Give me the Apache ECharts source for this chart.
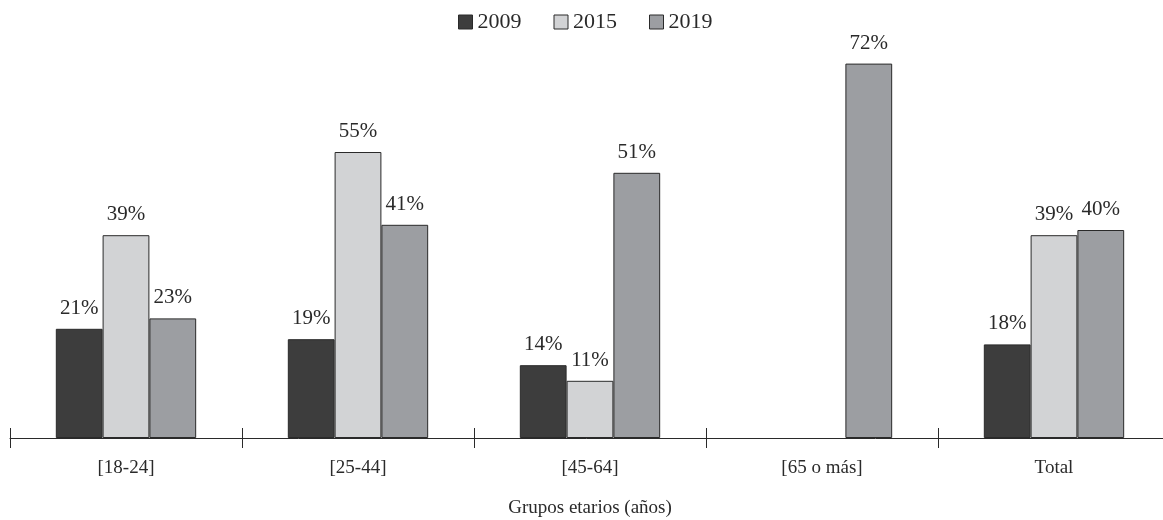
<!DOCTYPE html>
<html>
<head>
<meta charset="utf-8">
<script src="https://cdn.jsdelivr.net/npm/echarts@6/dist/echarts.min.js"></script>
<style>
  html, body { margin: 0; padding: 0; background: #fff; }
  #chart { width: 1163px; height: 520px; }
</style>
</head>
<body>
<div id="chart"></div>
<script>
// Age groups on the category axis
const categories = ['[18-24]', '[25-44]', '[45-64]', '[65 o más]', 'Total'];
// Percentages per survey year (null = no value for that group)
const values2009 = [21, 19, 14, null, 18];
const values2015 = [39, 55, 11, null, 39];
const values2019 = [23, 41, 51, 72, 40];
const seriesNames = ['2009', '2015', '2019'];
const axisTitle = 'Grupos etarios (años)';

const FONT = '"Liberation Serif", "DejaVu Serif", serif';
const INK = '#2a2a2a';
const colors = ['#3d3d3d', '#d2d3d5', '#9c9ea2'];

function barSeries(name, data, color) {
  return {
    name: name,
    type: 'bar',
    data: data,
    barGap: '0%',
    barCategoryGap: '39.5%',
    itemStyle: { color: color, borderColor: INK, borderWidth: 1 },
    label: {
      show: true,
      position: 'top',
      distance: 10,
      formatter: p => p.value + '%',
      fontFamily: FONT,
      fontSize: 21,
      color: INK
    }
  };
}

const chart = echarts.init(document.getElementById('chart'), null, { renderer: 'canvas' });
chart.setOption({
  animation: false,
  legend: {
    top: 6,
    left: 453,
    itemWidth: 14,
    itemHeight: 14,
    itemGap: 32,
    icon: 'rect',
    itemStyle: { borderColor: INK, borderWidth: 1 },
    textStyle: { fontFamily: FONT, fontSize: 22, color: INK },
    data: seriesNames
  },
  grid: { left: 10, top: 22, width: 1160, height: 416, containLabel: false, outerBoundsMode: 'none' },
  xAxis: [
    {
      type: 'category',
      data: categories,
      position: 'bottom',
      axisLine: { lineStyle: { color: INK, width: 1 } },
      axisTick: { show: true, alignWithLabel: false, length: 10, lineStyle: { color: INK } },
      axisLabel: { fontFamily: FONT, fontSize: 19, color: INK, margin: 21 },
      name: axisTitle,
      nameLocation: 'middle',
      nameGap: 61,
      nameTextStyle: { fontFamily: FONT, fontSize: 19, color: INK }
    },
    {
      type: 'category',
      data: categories,
      position: 'bottom',
      axisLine: { show: false },
      axisTick: { show: true, inside: true, length: 10, lineStyle: { color: INK } },
      axisLabel: { show: false }
    }
  ],
  yAxis: {
    type: 'value',
    min: 0,
    max: 80,
    show: false,
    splitLine: { show: false }
  },
  series: [
    barSeries(seriesNames[0], values2009, colors[0]),
    barSeries(seriesNames[1], values2015, colors[1]),
    barSeries(seriesNames[2], values2019, colors[2])
  ]
});
</script>
</body>
</html>
